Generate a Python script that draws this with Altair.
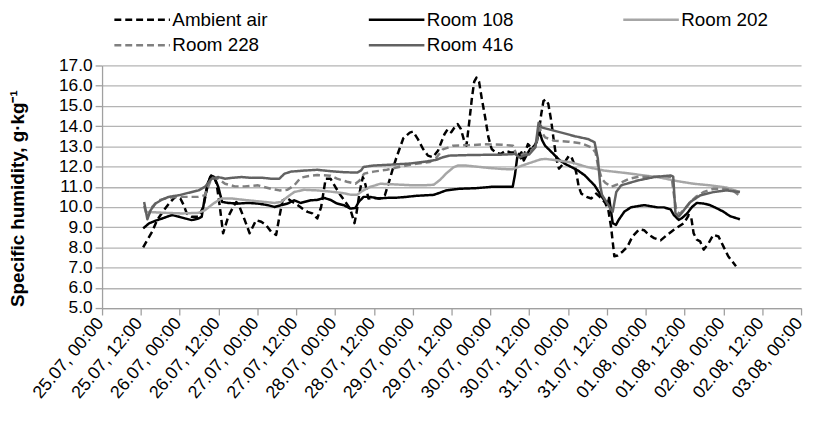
import altair as alt
import pandas as pd

# ---- data (hours since 25.07 00:00, specific humidity g/kg) ----
series_names = ["Ambient air", "Room 108", "Room 202", "Room 228", "Room 416"]

ambient_h = [12.7, 14.0, 15.5, 17.0, 19.1, 21.1, 22.6, 24.2, 25.2, 26.2, 27.7, 29.8, 31.3, 32.3, 33.4, 34.4, 35.4, 36.4, 37.4, 39.0,
             40.5, 41.5, 42.5, 44.1, 45.6, 47.6, 49.2, 50.7, 52.2, 53.8, 54.8, 55.8, 57.3, 58.9, 60.4, 61.9, 63.5, 65.0, 66.5, 67.7,
             69.1, 70.6, 72.1, 73.7, 75.2, 76.7, 78.0, 78.6, 79.3, 80.0, 80.6, 81.4, 82.3, 84.0, 85.9, 87.4, 88.5, 90.0, 91.0, 93.1,
             95.1, 96.1, 97.6, 99.2, 100.7, 102.2, 103.8, 105.8, 106.8, 107.9, 108.9, 109.9, 110.9, 111.9, 112.6, 113.5, 114.3, 115.0, 115.7, 116.5,
             117.3, 118.4, 119.4, 120.4, 121.6, 123.2, 124.7, 126.2, 127.7, 128.8, 129.8, 131.6, 132.8, 134.0, 134.9, 135.7, 136.4, 137.1, 137.9, 138.8,
             139.6, 140.5, 141.2, 142.3, 143.3, 144.3, 145.1, 145.9, 146.6, 147.3, 148.1, 149.7, 151.2, 152.7, 154.2, 155.5, 156.5, 157.3, 158.3, 159.3,
             160.9, 162.4, 163.9, 166.0, 167.5, 169.0, 170.6, 172.6, 174.6, 176.7, 178.2, 179.8, 181.3, 182.0, 182.8, 183.8, 184.8, 185.9, 187.4, 188.9,
             190.5, 192.0, 193.5, 195.9]
ambient_v = [8.0, 8.37, 8.78, 9.35, 9.84, 10.25, 10.5, 10.42, 10.1, 9.68, 9.52, 9.52, 10.0, 10.82, 11.48, 11.56, 11.15, 10.0, 8.7, 9.52,
             10.0, 10.25, 10.0, 9.35, 8.7, 9.35, 9.27, 9.1, 8.78, 8.62, 9.52, 10.33, 10.42, 10.25, 10.1, 9.92, 9.76, 9.68, 9.43, 10.0,
             11.4, 11.4, 10.99, 10.58, 10.25, 9.9, 9.2, 9.68, 10.42, 11.07, 11.48, 11.1, 10.42, 10.45, 10.42, 10.58, 11.15, 11.97, 12.46, 13.4,
             13.68, 13.73, 13.36, 12.87, 12.54, 12.46, 12.78, 13.6, 13.85, 13.7, 13.93, 14.1, 13.85, 13.27, 13.03, 14.25, 15.4, 16.2, 16.4, 16.2,
             15.4, 14.42, 13.44, 12.87, 12.7, 12.62, 12.78, 12.7, 12.7, 12.62, 12.3, 13.11, 12.9, 13.1, 13.6, 14.58, 15.24, 15.32, 15.1, 14.26,
             13.27, 12.3, 11.9, 12.1, 12.3, 12.54, 12.45, 12.13, 11.64, 11.0, 10.66, 10.5, 10.42, 10.66, 10.45, 10.2, 9.8, 9.0, 7.56, 7.6,
             7.8, 8.05, 8.54, 8.9, 8.85, 8.62, 8.46, 8.35, 8.62, 8.87, 9.03, 9.2, 9.6, 9.55, 8.7, 8.38, 8.3, 7.89, 8.2, 8.62,
             8.54, 8.05, 7.56, 7.07]

room108_h = [12.7, 14.5, 16.5, 18.6, 20.1, 21.6, 23.7, 25.7, 27.7, 29.8, 30.8, 31.6, 32.6, 33.7, 34.7, 35.9, 37.1, 39.0, 42.0, 45.1,
             48.2, 51.2, 53.3, 55.3, 57.3, 59.4, 61.4, 64.5, 66.5, 68.6, 70.6, 72.6, 74.7, 76.7, 78.3, 79.3, 80.8, 82.8, 85.4, 88.0,
             91.0, 94.1, 97.0, 100.2, 102.5, 104.3, 106.3, 110.4, 115.5, 120.6, 124.7, 126.9, 127.6, 128.3, 129.6, 130.3, 131.3, 132.3, 133.3, 134.4,
             135.1, 136.0, 136.9, 138.5, 140.0, 141.5, 143.1, 145.1, 147.1, 149.2, 150.7, 152.2, 153.8, 155.2, 156.3, 156.7, 157.8, 158.8, 159.6, 161.4,
             163.4, 165.5, 167.5, 169.5, 171.6, 173.6, 175.7, 176.7, 178.2, 179.2, 180.8, 182.3, 183.8, 185.9, 187.9, 190.0, 192.0, 194.0, 197.1]
room108_v = [8.94, 9.19, 9.32, 9.43, 9.52, 9.6, 9.52, 9.43, 9.35, 9.43, 9.52, 10.33, 11.15, 11.56, 11.48, 11.0, 10.25, 10.2, 10.17, 10.2,
             10.17, 10.09, 10.0, 10.09, 10.17, 10.33, 10.2, 10.33, 10.35, 10.45, 10.35, 10.17, 10.09, 9.92, 9.95, 10.25, 10.5, 10.5, 10.42, 10.45,
             10.46, 10.5, 10.55, 10.58, 10.6, 10.7, 10.82, 10.9, 10.93, 11.0, 11.0, 11.0, 11.6, 12.46, 12.7, 12.3, 12.6, 12.87, 12.9, 13.27,
             13.77, 13.3, 13.03, 12.78, 12.54, 12.3, 12.13, 11.97, 11.8, 11.56, 11.31, 11.07, 10.66, 10.33, 10.2, 10.45, 9.2, 9.11, 9.35, 9.77,
             9.98, 10.04, 10.09, 10.04, 9.98, 9.98, 9.88, 9.6, 9.36, 9.45, 9.68, 10.0, 10.2, 10.17, 10.09, 9.93, 9.77, 9.55, 9.39]

room202_h = [13.5, 19.6, 24.7, 29.8, 31.8, 34.4, 36.9, 40.0, 45.1, 50.2, 53.3, 55.3, 57.3, 59.4, 62.4, 66.5, 70.6, 74.7, 77.0, 78.8,
             80.5, 82.8, 86.0, 90.0, 95.1, 100.2, 102.5, 104.5, 106.3, 108.5, 109.9, 112.4, 115.5, 119.6, 123.7, 126.7, 129.8, 132.8, 135.4, 137.0,
             141.0, 145.1, 150.1, 155.2, 162.4, 167.5, 172.6, 177.7, 182.8, 187.9, 193.0, 197.1]
room202_v = [9.76, 9.71, 9.68, 9.71, 9.84, 10.17, 10.42, 10.42, 10.33, 10.25, 10.2, 10.25, 10.5, 10.74, 10.85, 10.82, 10.76, 10.68, 10.6, 10.6,
             10.8, 10.99, 11.15, 11.12, 11.08, 11.08, 11.1, 11.35, 11.65, 11.95, 12.05, 12.05, 12.0, 11.93, 11.88, 11.86, 12.05, 12.21, 12.35, 12.38,
             12.3, 12.2, 11.97, 11.8, 11.67, 11.56, 11.45, 11.28, 11.15, 11.07, 10.96, 10.74]

room228_h = [13.0, 14.0, 15.5, 17.5, 20.6, 23.7, 26.7, 29.8, 31.8, 33.9, 35.9, 38.0, 41.0, 44.1, 48.2, 52.2, 54.8, 57.3, 59.4, 61.4,
             63.5, 66.5, 70.6, 72.6, 75.7, 78.3, 79.5, 81.0, 83.9, 88.0, 91.0, 96.1, 101.2, 103.2, 105.3, 108.4, 113.5, 118.6, 123.7, 127.0,
             128.3, 130.0, 132.0, 134.0, 135.1, 136.9, 140.0, 144.1, 148.1, 151.2, 152.5, 153.3, 154.4, 155.5, 157.3, 159.0, 161.0, 163.0, 166.0, 170.0,
             174.0, 176.0, 176.8, 177.5, 178.5, 180.0, 181.5, 183.5, 186.0, 189.0, 192.5, 195.0, 197.1]
room228_v = [10.05, 9.5, 10.0, 10.33, 10.46, 10.5, 10.5, 10.5, 10.58, 11.45, 11.4, 11.15, 11.02, 11.02, 11.07, 10.9, 10.82, 10.85, 11.07, 11.45,
             11.52, 11.58, 11.55, 11.4, 11.25, 11.15, 11.3, 11.65, 11.75, 11.84, 11.95, 12.12, 12.22, 12.42, 12.85, 13.03, 13.06, 13.1, 13.08, 13.03,
             12.5, 12.6, 12.7, 13.0, 13.9, 13.44, 13.27, 13.23, 13.15, 12.95, 12.7, 12.0, 11.4, 11.2, 11.0, 11.1, 11.25, 11.4, 11.5, 11.5,
             11.52, 11.48, 10.5, 9.8, 9.65, 9.9, 10.2, 10.5, 10.75, 10.9, 10.9, 10.8, 10.55]

room416_h = [13.0, 14.0, 15.0, 16.5, 18.6, 20.6, 23.7, 26.7, 29.8, 31.8, 33.9, 35.9, 38.0, 40.0, 43.1, 46.1, 49.2, 52.2, 54.8, 56.3,
             58.4, 62.4, 66.5, 70.6, 74.7, 78.8, 80.0, 80.8, 83.9, 90.0, 95.1, 100.2, 103.25, 105.3, 107.3, 113.5, 118.6, 123.7, 127.7, 129.0,
             130.5, 132.0, 133.9, 134.9, 135.9, 137.9, 142.0, 146.1, 150.2, 152.2, 153.2, 154.0, 154.5, 156.8, 157.8, 158.9, 160.4, 165.5, 170.6, 175.7,
             176.5, 177.2, 178.2, 179.8, 181.8, 184.9, 189.0, 193.0, 197.1]
room416_v = [10.25, 9.39, 9.84, 10.17, 10.37, 10.5, 10.58, 10.7, 10.82, 11.0, 11.4, 11.48, 11.4, 11.44, 11.48, 11.44, 11.45, 11.4, 11.4, 11.64,
             11.75, 11.8, 11.84, 11.77, 11.72, 11.7, 11.8, 11.98, 12.05, 12.1, 12.15, 12.25, 12.33, 12.46, 12.54, 12.57, 12.58, 12.59, 12.62, 12.45,
             12.55, 12.6, 12.95, 14.17, 13.93, 13.85, 13.68, 13.5, 13.36, 13.2, 12.4, 11.0, 10.6, 10.0, 9.76, 10.74, 11.07, 11.31, 11.48, 11.56,
             11.5, 9.68, 9.52, 9.84, 10.25, 10.58, 10.74, 10.82, 10.74]

tick_hours = list(range(0, 217, 12))
tick_labels = ["25.07, 00:00", "25.07, 12:00", "26.07, 00:00", "26.07, 12:00", "27.07, 00:00", "27.07, 12:00",
               "28.07, 00:00", "28.07, 12:00", "29.07, 00:00", "29.07, 12:00", "30.07, 00:00", "30.07, 12:00",
               "31.07, 00:00", "31.07, 12:00", "01.08, 00:00", "01.08, 12:00", "02.08, 00:00", "02.08, 12:00",
               "03.08, 00:00"]
y_ticks = [5, 6, 7, 8, 9, 10, 11, 12, 13, 14, 15, 16, 17]

series_colors = ["#000000", "#000000", "#a6a6a6", "#808080", "#626262"]
series_dash = [[7, 4], [1, 0], [1, 0], [7, 4], [1, 0]]

# ---- build table ----
rows = []
for name, hs, vs in [("Ambient air", ambient_h, ambient_v), ("Room 108", room108_h, room108_v),
                     ("Room 202", room202_h, room202_v), ("Room 228", room228_h, room228_v),
                     ("Room 416", room416_h, room416_v)]:
    for h, v in zip(hs, vs):
        rows.append({"series": name, "h": h, "v": v})
df = pd.DataFrame(rows)

label_expr = "[" + ",".join("'" + s + "'" for s in tick_labels) + "][round(datum.value/12)]"

FONT = "Liberation Sans"

legend = alt.Legend(
    title=None, orient="none", legendX=31, legendY=-56, columns=3, direction="horizontal",
    symbolType="M-5,0H5", symbolSize=126, symbolStrokeWidth=2.5, labelFontSize=19, labelFont=FONT,
    labelColor="#000000", labelOffset=21, columnPadding=96, rowPadding=6, gridAlign="all",
    labelLimit=300,
)

chart = alt.Chart(df).mark_line(strokeWidth=2.5, strokeJoin="round").encode(
    x=alt.X("h:Q", scale=alt.Scale(domain=[0, 216], nice=False, zero=False),
            axis=alt.Axis(values=tick_hours, labelExpr=label_expr, labelAngle=-50, labelAlign="right",
                          labelBaseline="middle", labelPadding=5, labelOffset=-2, labelFontSize=18, labelFont=FONT,
                          labelColor="#000000", tickSize=7, tickColor="#a0a0a0", domainColor="#a0a0a0",
                          domainWidth=1.3, tickWidth=1.3, grid=False, title=None, labelOverlap=False,
                          labelBound=False, labelFlush=False)),
    y=alt.Y("v:Q", scale=alt.Scale(domain=[5, 17], nice=False, zero=False),
            axis=alt.Axis(values=y_ticks, format=".1f", labelFontSize=17.5, labelFont=FONT, labelColor="#000000",
                          labelPadding=3, tickSize=7, tickColor="#a0a0a0", domainColor="#a0a0a0",
                          domainWidth=1.3, tickWidth=1.3, grid=True, gridColor="#b4b4b4", gridWidth=1.3,
                          title="Specific humidity, g·kg⁻¹", titleFont=FONT, titleFontSize=19,
                          titleFontWeight="bold", titleColor="#000000", titleX=-79, titleY=134,
                          titleBaseline="alphabetic", labelOverlap=False, labelFlush=False)),
    color=alt.Color("series:N", scale=alt.Scale(domain=series_names, range=series_colors), legend=legend),
    strokeDash=alt.StrokeDash("series:N", scale=alt.Scale(domain=series_names, range=series_dash), legend=legend),
).properties(
    width=706, height=245,
    autosize=alt.AutoSizeParams(type="none"),
    padding={"left": 95, "top": 56, "right": 5, "bottom": 110},
    background="#ffffff",
).configure_view(stroke=None)

chart.save("out.html", embed_options={"renderer": "svg", "actions": False})
